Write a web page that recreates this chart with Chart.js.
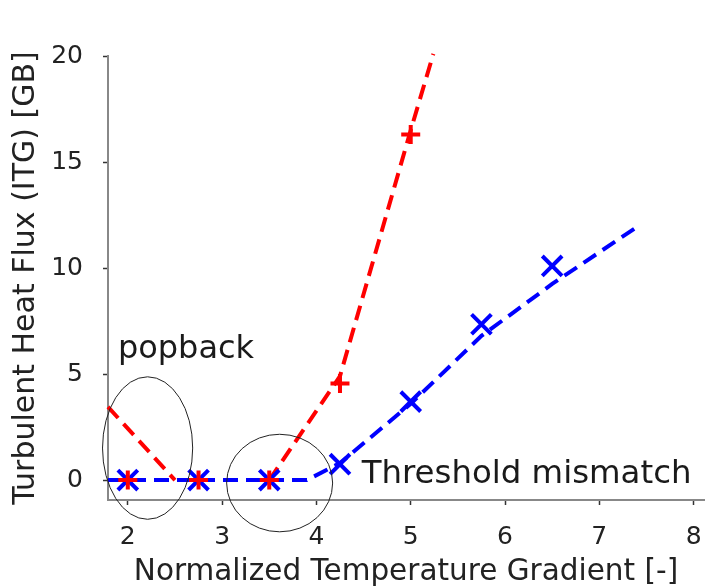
<!DOCTYPE html>
<html><head><meta charset="utf-8">
<script src="https://cdn.jsdelivr.net/npm/chart.js@4/dist/chart.umd.min.js"></script>
<style>html,body{margin:0;padding:0;background:#fff;} canvas{display:block;}</style>
</head><body>
<canvas id="c" width="722" height="587"></canvas>
<script>
// ---- data ----
const redMarkerX = [2, 2.75, 3.5, 4.25, 5.0];
const redMarkerY = [0, 0, 0, 4.55, 16.3];
const blueMarkerX = [2, 2.75, 3.5, 4.25, 5.0, 5.75, 6.5];
const blueMarkerY = [0, 0, 0, 0.75, 3.7, 7.35, 10.1];
const redFitX = [1.79, 2.5, 3.0, 3.5, 4.25, 5.0, 5.24];
const redFitY = [3.45, 0, null, 0, 4.9, 16.5, 20.1];
const blueFitX = [1.79, 3.9, 4.25, 5.0, 5.75, 6.5, 7.37];
const blueFitY = [0, 0, 0.8, 3.6, 6.8, 9.25, 11.85];
const xTickValues = [2, 3, 4, 5, 6, 7, 8];
const yTickValues = [0, 5, 10, 15, 20];
const xTitle = 'Normalized Temperature Gradient [-]';
const yTitle = 'Turbulent Heat Flux (ITG) [GB]';
// annotations (data units)
const ellipseCX = [2.21, 3.61];
const ellipseCY = [1.51, -0.14];
const ellipseRX = [0.478, 0.562];
const ellipseRY = [3.36, 2.30];
const noteText = ['popback', 'Threshold mismatch'];
const noteX = [1.895, 4.48];
const noteY = [5.75, -0.14];

const toPts = (xs, ys) => xs.map((x, i) => ({x: x, y: ys[i]}));
const FONT = "'DejaVu Sans', Verdana, sans-serif";

const annotate = {
  id: 'annotate',
  afterDatasetsDraw(chart) {
    const {ctx, scales: {x, y}} = chart;
    ctx.save();
    ctx.strokeStyle = '#222';
    ctx.lineWidth = 1;
    for (let i = 0; i < ellipseCX.length; i++) {
      const cx = x.getPixelForValue(ellipseCX[i]);
      const cy = y.getPixelForValue(ellipseCY[i]);
      const rx = Math.abs(x.getPixelForValue(ellipseCX[i] + ellipseRX[i]) - cx);
      const ry = Math.abs(y.getPixelForValue(ellipseCY[i] + ellipseRY[i]) - cy);
      ctx.beginPath();
      ctx.ellipse(cx, cy, rx, ry, 0, 0, Math.PI * 2);
      ctx.stroke();
    }
    ctx.fillStyle = '#1a1a1a';
    ctx.textBaseline = 'alphabetic';
    ctx.textAlign = 'left';
    const sizes = [32, 32.4];
    for (let i = 0; i < noteText.length; i++) {
      ctx.font = sizes[i] + 'px ' + FONT;
      ctx.fillText(noteText[i], x.getPixelForValue(noteX[i]), y.getPixelForValue(noteY[i]));
    }
    ctx.restore();
  }
};

new Chart(document.getElementById('c'), {
  type: 'scatter',
  data: {
    datasets: [
      {label: 'red fit', data: toPts(redFitX, redFitY), showLine: true, spanGaps: false,
       borderColor: '#ff0000', borderWidth: 4, borderDash: [15, 8], pointRadius: 0, order: 4, clip: false},
      {label: 'blue fit', data: toPts(blueFitX, blueFitY), showLine: true,
       borderColor: '#0000ff', borderWidth: 4, borderDash: [15, 8], pointRadius: 0, order: 3, clip: false},
      {label: 'blue', data: toPts(blueMarkerX, blueMarkerY), showLine: false, pointStyle: 'crossRot',
       pointRadius: 14, borderColor: '#0000ff', pointBorderWidth: 4, order: 2, clip: false},
      {label: 'red', data: toPts(redMarkerX, redMarkerY), showLine: false, pointStyle: 'cross',
       pointRadius: 9.5, borderColor: '#ff0000', pointBorderWidth: 4, order: 1, clip: false}
    ]
  },
  options: {
    responsive: false,
    animation: false,
    devicePixelRatio: 1,
    layout: {padding: {left: 0, top: 56, right: 15, bottom: 0}},
    plugins: {legend: {display: false}, tooltip: {enabled: false}},
    scales: {
      x: {
        type: 'linear', min: 1.79, max: 8.11,
        afterBuildTicks: s => { s.ticks = xTickValues.map(v => ({value: v})); },
        afterFit: s => { s.height = 87; },
        ticks: {font: {family: FONT, size: 25}, color: '#222', padding: 17, autoSkip: false, maxRotation: 0},
        grid: {drawOnChartArea: false, drawTicks: true, tickLength: 5, tickColor: '#333', tickWidth: 1.5},
        border: {display: true, color: '#888', width: 2},
        title: {display: true, text: xTitle, font: {family: FONT, size: 29.5, lineHeight: 1.0}, color: '#222', padding: {top: 0, bottom: 0}}
      },
      y: {
        type: 'linear', min: -0.94, max: 20,
        afterBuildTicks: s => { s.ticks = yTickValues.map(v => ({value: v})); },
        afterFit: s => { s.width = 108; },
        ticks: {font: {family: FONT, size: 25}, color: '#222', padding: 20, autoSkip: false},
        grid: {drawOnChartArea: false, drawTicks: true, tickLength: 5, tickColor: '#333', tickWidth: 1.5},
        border: {display: true, color: '#888', width: 2},
        title: {display: true, text: yTitle, font: {family: FONT, size: 30}, color: '#222', padding: {top: 8, bottom: 0}}
      }
    }
  },
  plugins: [annotate]
});
</script>
</body></html>
